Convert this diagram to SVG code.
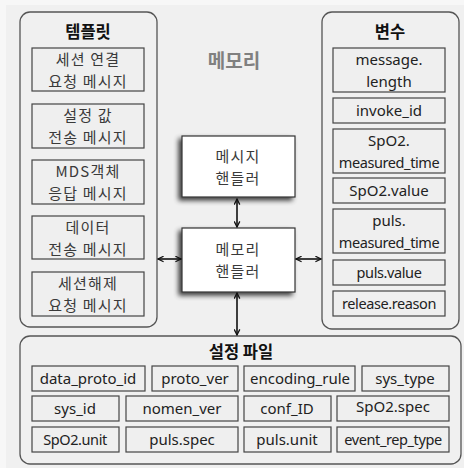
<svg xmlns="http://www.w3.org/2000/svg" width="464" height="468" viewBox="0 0 464 468">
  <defs>
    <style>
      .panel { fill: #f0f0f0; stroke: #555; stroke-width: 1.3; }
      .cell { fill: #efefef; stroke: #444; stroke-width: 1.2; }
      .hbox { fill: #ffffff; stroke: #333; stroke-width: 1.2; }
      text { font-family: "Noto Sans CJK KR", "Malgun Gothic", sans-serif; text-anchor: middle; fill: #222; }
      .title { font-size: 16.5px; font-weight: bold; fill: #111; }
      .kr { font-size: 15px; fill: #3a3a3a; letter-spacing: 1.2px; }
      .en { font-size: 15px; fill: #222; font-family: "Noto Sans", "Noto Sans CJK KR", sans-serif; }
      .ens { font-size: 14.5px; fill: #222; font-family: "Noto Sans", "Noto Sans CJK KR", sans-serif; letter-spacing: -0.4px; }
      .mem { font-size: 19px; font-weight: bold; fill: #808080; }
      .link { stroke: #111; stroke-width: 1.6; fill: none; marker-start: url(#head); marker-end: url(#head); }
    </style>
    <marker id="head" viewBox="0 0 10 10" refX="9" refY="5" markerWidth="7" markerHeight="7" orient="auto-start-reverse" markerUnits="userSpaceOnUse">
      <path d="M1,1 L9,5 L1,9" fill="none" stroke="#111" stroke-width="1.8"/>
    </marker>
    <filter id="shadow" x="-20%" y="-20%" width="140%" height="150%">
      <feGaussianBlur in="SourceAlpha" stdDeviation="2.5"/>
      <feOffset dx="-3" dy="3" result="b"/>
      <feComponentTransfer><feFuncA type="linear" slope="0.75"/></feComponentTransfer>
      <feMerge><feMergeNode/><feMergeNode in="SourceGraphic"/></feMerge>
    </filter>
  </defs>

  <rect x="0" y="0" width="464" height="468" fill="#f7f7f7"/>
  <rect x="6" y="5" width="458" height="463" fill="#f0f0f0"/>

  <text class="mem" x="234" y="68">메모리</text>

  <!-- templates panel -->
  <g id="templates">
    <rect class="panel" x="20" y="12" width="137" height="315" rx="10"/>
    <text class="title" x="88" y="38">템플릿</text>
    <rect class="cell" x="32" y="48" width="112" height="43"/>
    <text class="kr" x="88" y="65">세션 연결</text>
    <text class="kr" x="88" y="87">요청 메시지</text>
    <rect class="cell" x="32" y="104" width="112" height="44"/>
    <text class="kr" x="88" y="121">설정 값</text>
    <text class="kr" x="88" y="143">전송 메시지</text>
    <rect class="cell" x="32" y="160" width="112" height="44"/>
    <text class="kr" x="88" y="177">MDS객체</text>
    <text class="kr" x="88" y="199">응답 메시지</text>
    <rect class="cell" x="32" y="216" width="112" height="43"/>
    <text class="kr" x="88" y="233">데이터</text>
    <text class="kr" x="88" y="255">전송 메시지</text>
    <rect class="cell" x="32" y="272" width="112" height="44"/>
    <text class="kr" x="88" y="289">세션해제</text>
    <text class="kr" x="88" y="311">요청 메시지</text>
  </g>

  <!-- variables panel -->
  <g id="variables">
    <rect class="panel" x="322" y="12" width="137" height="317" rx="10"/>
    <text class="title" x="390" y="38">변수</text>
    <rect class="cell" x="333" y="48" width="112" height="44"/>
    <text class="en" x="389" y="65">message.</text>
    <text class="en" x="389" y="87">length</text>
    <rect class="cell" x="333" y="98" width="112" height="25"/>
    <text class="en" x="389" y="116">invoke_id</text>
    <rect class="cell" x="333" y="129" width="112" height="44"/>
    <text class="en" x="389" y="146">SpO2.</text>
    <text class="ens" x="389" y="168">measured_time</text>
    <rect class="cell" x="333" y="178" width="112" height="25"/>
    <text class="en" x="389" y="196">SpO2.value</text>
    <rect class="cell" x="333" y="209" width="112" height="44"/>
    <text class="en" x="389" y="226">puls.</text>
    <text class="ens" x="389" y="248">measured_time</text>
    <rect class="cell" x="333" y="260" width="112" height="25"/>
    <text class="ens" x="389" y="278">puls.value</text>
    <rect class="cell" x="333" y="291" width="112" height="25"/>
    <text class="ens" x="389" y="309">release.reason</text>
  </g>

  <!-- handlers -->
  <g id="message-handler">
    <rect class="hbox" x="182" y="136" width="113" height="61" filter="url(#shadow)"/>
    <text class="kr" x="238" y="162">메시지</text>
    <text class="kr" x="238" y="184">핸들러</text>
  </g>
  <g id="memory-handler">
    <rect class="hbox" x="182" y="228" width="113" height="64" filter="url(#shadow)"/>
    <text class="kr" x="238" y="255">메모리</text>
    <text class="kr" x="238" y="277">핸들러</text>
  </g>

  <!-- config file panel -->
  <g id="config">
    <rect class="panel" x="20" y="336" width="441" height="128" rx="10"/>
    <text class="title" x="241" y="358">설정 파일</text>
    <rect class="cell" x="32" y="366" width="113" height="25"/>
    <text class="en" x="88" y="384">data_proto_id</text>
    <rect class="cell" x="152" y="366" width="86" height="25"/>
    <text class="en" x="195" y="384">proto_ver</text>
    <rect class="cell" x="244" y="366" width="111" height="25"/>
    <text class="en" x="300" y="384">encoding_rule</text>
    <rect class="cell" x="362" y="366" width="87" height="25"/>
    <text class="en" x="405" y="384">sys_type</text>

    <rect class="cell" x="32" y="396" width="87" height="25"/>
    <text class="en" x="75" y="414">sys_id</text>
    <rect class="cell" x="126" y="396" width="112" height="25"/>
    <text class="en" x="182" y="414">nomen_ver</text>
    <rect class="cell" x="244" y="396" width="87" height="25"/>
    <text class="en" x="287" y="414">conf_ID</text>
    <rect class="cell" x="337" y="396" width="112" height="25"/>
    <text class="en" x="393" y="412">SpO2.spec</text>

    <rect class="cell" x="32" y="427" width="87" height="25"/>
    <text class="ens" x="75" y="445">SpO2.unit</text>
    <rect class="cell" x="126" y="427" width="112" height="25"/>
    <text class="en" x="182" y="445">puls.spec</text>
    <rect class="cell" x="244" y="427" width="87" height="25"/>
    <text class="en" x="287" y="445">puls.unit</text>
    <rect class="cell" x="337" y="427" width="112" height="25"/>
    <text class="ens" x="393" y="445">event_rep_type</text>
  </g>

  <!-- connectors -->
  <g id="connectors">
    <line class="link" x1="237" y1="199" x2="237" y2="227"/>
    <line class="link" x1="158" y1="259" x2="181" y2="259"/>
    <line class="link" x1="296" y1="259" x2="321" y2="259"/>
    <line class="link" x1="237" y1="293" x2="237" y2="335"/>
  </g>
</svg>
